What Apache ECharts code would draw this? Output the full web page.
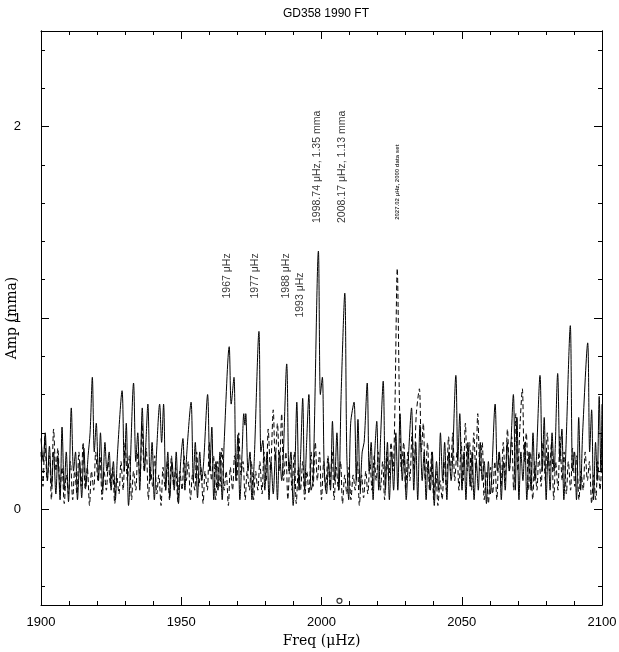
<!DOCTYPE html>
<html>
<head>
<meta charset="utf-8">
<script src="https://cdn.jsdelivr.net/npm/echarts@6/dist/echarts.min.js"></script>
<style>html,body{margin:0;padding:0;background:#fff;}#c{width:619px;height:652px;}</style>
</head>
<body>
<div id="c"></div>
<script>
// ---- DATA ----
const titleText = 'GD358 1990 FT';
const xTicks = [1900, 1950, 2000, 2050, 2100];
const yTicks = [0, 1, 2];
const yMinorTicks = [-0.4, -0.2, 0.2, 0.4, 0.6, 0.8, 1.2, 1.4, 1.6, 1.8, 2.2, 2.4];

// 1990 FT (solid line): [freq µHz, amplitude mma]
const ft1990 = [
[1900.0,0.37],[1900.8,0.25],[1901.5,0.40],[1902.3,0.15],[1903.0,0.33],[1903.8,0.12],[1904.5,0.30],[1905.3,0.08],
[1906.0,0.28],[1906.8,0.05],[1907.5,0.43],[1908.3,0.10],[1909.0,0.30],[1909.8,0.04],[1910.8,0.53],[1911.6,0.20],
[1912.3,0.30],[1913.0,0.05],[1913.8,0.25],[1914.5,0.06],[1915.3,0.32],[1916.0,0.12],[1916.8,0.28],[1917.5,0.40],
[1918.3,0.69],[1919.0,0.30],[1919.7,0.45],[1920.5,0.15],[1921.2,0.40],[1922.0,0.10],[1922.8,0.35],[1923.5,0.20],
[1924.3,0.30],[1925.0,0.10],[1925.8,0.25],[1926.5,0.05],[1927.3,0.30],[1928.9,0.62],[1929.7,0.20],[1930.4,0.45],
[1931.2,0.02],[1933.0,0.66],[1933.8,0.25],[1934.5,0.40],[1935.2,0.10],[1936.1,0.53],[1936.9,0.20],[1937.4,0.35],
[1938.1,0.55],[1938.9,0.15],[1939.6,0.35],[1940.4,0.05],[1941.2,0.30],[1942.3,0.55],[1943.0,0.35],[1943.7,0.55],
[1944.5,0.10],[1945.2,0.30],[1945.9,0.06],[1946.7,0.25],[1947.5,0.10],[1948.2,0.30],[1949.0,0.03],[1949.8,0.25],
[1950.6,0.37],[1951.3,0.10],[1952.0,0.30],[1953.5,0.56],[1954.3,0.15],[1955.0,0.35],[1955.8,0.06],[1956.6,0.30],
[1957.3,0.15],[1958.0,0.25],[1959.4,0.60],[1960.2,0.20],[1960.9,0.43],[1961.6,0.05],[1962.4,0.25],[1963.1,0.10],
[1963.8,0.30],[1964.6,0.05],[1965.3,0.35],[1967.1,0.85],[1967.8,0.55],[1968.8,0.69],[1969.5,0.15],[1970.2,0.39],
[1970.9,0.05],[1971.7,0.30],[1972.3,0.50],[1972.7,0.44],[1973.0,0.50],[1973.8,0.20],[1974.5,0.30],[1975.2,0.05],
[1976.0,0.25],[1977.7,0.93],[1978.4,0.30],[1979.1,0.36],[1979.8,0.10],[1980.6,0.30],[1981.3,0.05],[1982.0,0.25],
[1982.8,0.08],[1983.6,0.30],[1984.3,0.05],[1985.0,0.30],[1985.8,0.15],[1987.6,0.76],[1988.4,0.20],[1989.1,0.30],
[1989.9,0.02],[1990.5,0.20],[1991.2,0.56],[1992.0,0.10],[1992.6,0.30],[1993.3,0.58],[1994.0,0.10],[1994.7,0.35],
[1995.5,0.60],[1996.3,0.10],[1997.0,0.15],[1998.9,1.35],[1999.6,0.60],[2000.3,0.69],[2001.0,0.20],[2001.8,0.08],
[2002.5,0.25],[2003.2,0.10],[2003.9,0.46],[2004.7,0.15],[2005.5,0.40],[2006.2,0.10],[2007.0,0.60],[2008.3,1.13],
[2009.0,0.30],[2009.7,0.05],[2010.4,0.45],[2011.6,0.56],[2012.4,0.15],[2013.0,0.47],[2013.8,0.10],[2014.5,0.30],
[2015.2,0.35],[2016.3,0.66],[2017.0,0.20],[2017.7,0.35],[2018.4,0.05],[2019.0,0.30],[2019.7,0.46],[2020.4,0.10],
[2021.0,0.35],[2022.0,0.67],[2022.8,0.10],[2023.5,0.35],[2024.2,0.05],[2025.0,0.30],[2025.7,0.10],[2026.5,0.40],
[2027.2,0.10],[2028.0,0.50],[2028.8,0.15],[2029.5,0.30],[2030.2,0.05],[2030.9,0.25],[2032.1,0.53],[2032.9,0.10],
[2033.6,0.35],[2034.3,0.05],[2035.1,0.44],[2035.9,0.15],[2036.6,0.30],[2037.3,0.05],[2038.0,0.25],[2038.8,0.10],
[2039.5,0.30],[2040.2,0.02],[2041.0,0.25],[2041.7,0.10],[2042.4,0.40],[2043.2,0.15],[2043.9,0.35],[2044.7,0.05],
[2045.4,0.30],[2046.2,0.15],[2047.9,0.70],[2048.6,0.25],[2049.3,0.50],[2050.1,0.10],[2050.8,0.30],[2051.5,0.05],
[2052.2,0.35],[2053.0,0.12],[2053.7,0.30],[2054.4,0.05],[2055.2,0.25],[2055.9,0.10],[2056.6,0.35],[2057.3,0.15],
[2058.0,0.25],[2058.8,0.03],[2059.5,0.25],[2060.2,0.08],[2061.9,0.55],[2062.7,0.20],[2063.4,0.30],[2064.1,0.05],
[2064.8,0.25],[2065.5,0.10],[2066.2,0.35],[2066.9,0.20],[2068.4,0.60],[2069.1,0.10],[2069.7,0.48],[2070.4,0.05],
[2071.1,0.30],[2071.8,0.15],[2072.5,0.35],[2073.2,0.05],[2074.0,0.30],[2074.7,0.10],[2075.4,0.40],[2076.1,0.15],
[2077.9,0.70],[2078.7,0.20],[2079.4,0.48],[2080.1,0.05],[2080.8,0.30],[2081.5,0.10],[2082.2,0.40],[2082.9,0.20],
[2084.2,0.71],[2085.0,0.25],[2085.7,0.42],[2086.4,0.05],[2087.1,0.30],[2088.7,0.96],[2089.5,0.20],[2090.2,0.30],
[2090.9,0.05],[2091.7,0.48],[2092.4,0.10],[2093.1,0.40],[2094.9,0.87],[2095.6,0.30],[2096.3,0.52],[2097.0,0.05],
[2097.7,0.35],[2098.3,0.15],[2099.0,0.59],[2099.6,0.20],[2100.0,0.55]
];

// 2000 data set (dashed line): [freq µHz, amplitude mma]
const ft2000 = [
[1900.0,0.30],[1900.7,0.12],[1901.4,0.38],[1902.2,0.15],[1903.0,0.28],[1903.7,0.05],[1904.5,0.42],[1905.3,0.20],
[1906.0,0.32],[1906.8,0.10],[1907.5,0.22],[1908.3,0.03],[1909.0,0.18],[1909.8,0.08],[1910.5,0.25],[1911.3,0.05],
[1912.0,0.20],[1912.8,0.08],[1913.5,0.30],[1914.3,0.12],[1915.0,0.35],[1915.8,0.10],[1916.5,0.22],[1917.3,0.02],
[1918.0,0.20],[1918.8,0.10],[1919.5,0.30],[1920.3,0.15],[1921.0,0.28],[1921.8,0.05],[1922.5,0.20],[1923.3,0.10],
[1924.0,0.25],[1924.8,0.12],[1925.5,0.22],[1926.3,0.03],[1927.0,0.18],[1927.8,0.08],[1928.5,0.25],[1929.3,0.10],
[1930.0,0.35],[1930.8,0.15],[1931.5,0.28],[1932.3,0.05],[1933.0,0.20],[1933.8,0.10],[1934.5,0.30],[1935.3,0.15],
[1936.0,0.45],[1936.8,0.20],[1937.5,0.32],[1938.3,0.05],[1939.0,0.22],[1939.8,0.12],[1940.5,0.28],[1941.3,0.08],
[1942.0,0.18],[1942.8,0.02],[1943.5,0.22],[1944.3,0.10],[1945.0,0.25],[1945.8,0.05],[1946.5,0.28],[1947.3,0.12],
[1948.0,0.22],[1948.8,0.04],[1949.5,0.20],[1950.3,0.10],[1951.0,0.28],[1951.8,0.15],[1952.5,0.25],[1953.3,0.05],
[1954.0,0.18],[1954.8,0.10],[1955.5,0.30],[1956.3,0.12],[1957.0,0.22],[1957.8,0.03],[1958.5,0.20],[1959.3,0.10],
[1960.0,0.35],[1960.8,0.15],[1961.5,0.28],[1962.3,0.05],[1963.0,0.25],[1963.8,0.12],[1964.5,0.32],[1965.3,0.10],
[1966.0,0.20],[1966.8,0.02],[1967.5,0.22],[1968.3,0.10],[1969.0,0.28],[1969.8,0.15],[1970.5,0.40],[1971.3,0.18],
[1972.0,0.25],[1972.8,0.05],[1973.5,0.20],[1974.3,0.10],[1975.0,0.25],[1975.8,0.05],[1976.5,0.20],[1977.3,0.10],
[1978.0,0.25],[1978.8,0.08],[1979.5,0.30],[1980.3,0.15],[1981.0,0.42],[1981.8,0.20],[1982.8,0.52],[1983.5,0.25],
[1984.3,0.45],[1985.0,0.20],[1985.8,0.50],[1986.5,0.15],[1987.3,0.30],[1988.0,0.05],[1988.8,0.25],[1989.5,0.10],
[1990.3,0.30],[1991.0,0.03],[1991.8,0.22],[1992.5,0.10],[1993.3,0.25],[1994.0,0.05],[1994.8,0.20],[1995.5,0.08],
[1996.3,0.30],[1997.0,0.12],[1997.8,0.35],[1998.5,0.15],[1999.3,0.30],[2000.0,0.05],[2000.8,0.25],[2001.5,0.10],
[2002.3,0.28],[2003.0,0.12],[2003.8,0.30],[2004.5,0.05],[2005.3,0.22],[2006.0,0.10],[2006.8,0.25],[2007.5,0.03],
[2008.3,0.18],[2009.0,0.08],[2009.8,0.22],[2010.5,0.05],[2011.3,0.18],[2012.0,0.10],[2012.8,0.25],[2013.5,0.02],
[2014.3,0.18],[2015.0,0.06],[2015.8,0.20],[2016.5,0.08],[2017.3,0.25],[2018.0,0.10],[2018.8,0.28],[2019.5,0.15],
[2020.3,0.30],[2021.0,0.10],[2021.8,0.25],[2022.5,0.05],[2023.3,0.30],[2024.0,0.15],[2024.8,0.35],[2025.5,0.20],
[2026.2,0.55],[2027.0,1.26],[2027.8,0.55],[2028.5,0.20],[2029.3,0.35],[2030.0,0.10],[2030.8,0.30],[2031.5,0.15],
[2032.3,0.40],[2033.0,0.20],[2033.8,0.50],[2034.9,0.63],[2035.6,0.30],[2036.3,0.45],[2037.0,0.15],[2037.8,0.35],
[2038.5,0.10],[2039.3,0.30],[2040.0,0.05],[2040.8,0.20],[2041.5,0.02],[2042.3,0.15],[2043.0,0.05],[2043.8,0.25],
[2044.5,0.10],[2045.3,0.38],[2046.0,0.20],[2046.8,0.40],[2047.5,0.15],[2048.3,0.30],[2049.0,0.10],[2049.8,0.35],
[2050.5,0.15],[2051.3,0.45],[2052.0,0.20],[2052.8,0.35],[2053.5,0.10],[2054.3,0.40],[2055.0,0.20],[2055.7,0.50],
[2056.5,0.20],[2057.3,0.35],[2058.0,0.05],[2058.8,0.20],[2059.5,0.03],[2060.3,0.22],[2061.0,0.08],[2061.8,0.25],
[2062.5,0.05],[2063.3,0.30],[2064.0,0.12],[2064.8,0.35],[2065.5,0.15],[2066.3,0.42],[2067.0,0.20],[2067.8,0.38],
[2068.5,0.10],[2069.3,0.50],[2070.0,0.20],[2070.8,0.45],[2071.6,0.63],[2072.3,0.25],[2073.0,0.40],[2073.8,0.10],
[2074.5,0.30],[2075.3,0.05],[2076.0,0.25],[2076.8,0.10],[2077.5,0.30],[2078.3,0.12],[2079.0,0.35],[2079.8,0.15],
[2080.5,0.40],[2081.3,0.20],[2082.0,0.35],[2082.8,0.05],[2083.5,0.25],[2084.3,0.10],[2085.0,0.38],[2085.8,0.15],
[2086.5,0.30],[2087.3,0.08],[2088.0,0.25],[2088.8,0.10],[2089.5,0.32],[2090.3,0.12],[2091.0,0.28],[2091.8,0.05],
[2092.5,0.20],[2093.3,0.10],[2094.0,0.30],[2094.8,0.15],[2095.5,0.25],[2096.3,0.03],[2097.0,0.18],[2097.8,0.05],
[2098.5,0.25],[2099.3,0.10],[2100.0,0.30]
];

// annotation texts and their anchor points [freq, amp]
const noteTexts = ['1967 μHz', '1977 μHz', '1988 μHz', '1993 μHz', '1998.74 μHz, 1.35 mma', '2008.17 μHz, 1.13 mma'];
const noteAnchors = [[1966.2, 1.22], [1976.4, 1.22], [1987.3, 1.22], [1992.2, 1.12], [1998.3, 1.79], [2007.5, 1.79]];
const smallNoteText = '2027.02 μHz, 2000 data set';
const smallNoteAnchor = [2026.9, 1.71];
const markerPoint = [2006.4, -0.478];

// ---- CHART ----
const chart = echarts.init(document.getElementById('c'), null, {renderer: 'canvas'});
const black = '#000';
const sans = 'Liberation Sans';
const serif = 'DejaVu Serif';

function xAx(pos, showLabel) {
  return {
    type: 'value', position: pos, min: 1900, max: 2100, interval: 50,
    axisLine: {show: true, onZero: false, lineStyle: {color: black, width: 1}},
    axisTick: {show: true, inside: true, length: 8, lineStyle: {color: black}},
    minorTick: {show: true, splitNumber: 5, length: 4, lineStyle: {color: black}},
    splitLine: {show: false},
    axisLabel: {show: showLabel, color: black, fontFamily: sans, fontSize: 13, margin: 11,
      formatter: v => String(v)},
    name: showLabel ? 'Freq (μHz)' : '', nameLocation: 'middle', nameGap: 29, nameMoveOverlap: false,
    nameTextStyle: {color: black, fontFamily: serif, fontSize: 14}
  };
}
function yAx(pos, showLabel, ticks, len) {
  return {
    type: 'value', position: pos, min: -0.5, max: 2.5, offset: 0,
    axisLine: {show: true, onZero: false, lineStyle: {color: black, width: 1}},
    axisTick: {show: true, inside: true, length: len, customValues: ticks, lineStyle: {color: black}},
    splitLine: {show: false},
    axisLabel: {show: showLabel, customValues: yTicks, color: black, fontFamily: sans, fontSize: 13, margin: 20,
      formatter: v => String(v)},
    name: showLabel ? 'Amp (mma)' : '', nameLocation: 'middle', nameGap: 22, nameMoveOverlap: false,
    nameTextStyle: {color: black, fontFamily: serif, fontSize: 14}
  };
}

const noteData = noteTexts.map((t, i) => ({name: t, value: noteAnchors[i]}));

const option = {
  animation: false,
  backgroundColor: '#fff',
  title: {
    text: titleText, left: 321, top: 3, textAlign: 'center',
    textStyle: {color: black, fontFamily: sans, fontSize: 12, fontWeight: 'normal'}
  },
  grid: {left: 41, right: 17, top: 31, bottom: 47, containLabel: false, outerBoundsMode: 'none'},
  xAxis: [xAx('bottom', true), xAx('top', false)],
  yAxis: [
    yAx('left', true, yTicks, 8),
    yAx('left', false, yMinorTicks, 4),
    yAx('right', false, yTicks, 8),
    yAx('right', false, yMinorTicks, 4)
  ],
  series: [
    {
      name: '2000', type: 'line', data: ft2000, xAxisIndex: 0, yAxisIndex: 0,
      showSymbol: false, symbol: 'none', silent: true, smooth: 0.3,
      lineStyle: {color: black, width: 1, type: [5, 3]}
    },
    {
      name: '1990', type: 'line', data: ft1990, xAxisIndex: 0, yAxisIndex: 0,
      showSymbol: false, symbol: 'none', silent: true, smooth: 0.3,
      lineStyle: {color: black, width: 1}
    },
    {
      name: 'notes', type: 'scatter', data: noteData, symbolSize: 0,
      xAxisIndex: 0, yAxisIndex: 0, silent: true,
      label: {
        show: true, position: 'inside', rotate: 90, formatter: p => p.name,
        color: black, fontFamily: sans, fontSize: 10.5, align: 'center', verticalAlign: 'middle'
      }
    },
    {
      name: 'smallnote', type: 'scatter', data: [{name: smallNoteText, value: smallNoteAnchor}], symbolSize: 0,
      xAxisIndex: 0, yAxisIndex: 0, silent: true,
      label: {
        show: true, position: 'inside', rotate: 90, formatter: p => p.name,
        color: black, fontFamily: sans, fontWeight: 'bold', fontSize: 6, align: 'center', verticalAlign: 'middle'
      }
    },
    {
      name: 'marker', type: 'scatter', data: [markerPoint], symbol: 'circle', symbolSize: 5,
      xAxisIndex: 0, yAxisIndex: 0, silent: true,
      itemStyle: {color: '#fff', borderColor: black, borderWidth: 1.2}
    }
  ]
};
chart.setOption(option);
</script>
</body>
</html>
